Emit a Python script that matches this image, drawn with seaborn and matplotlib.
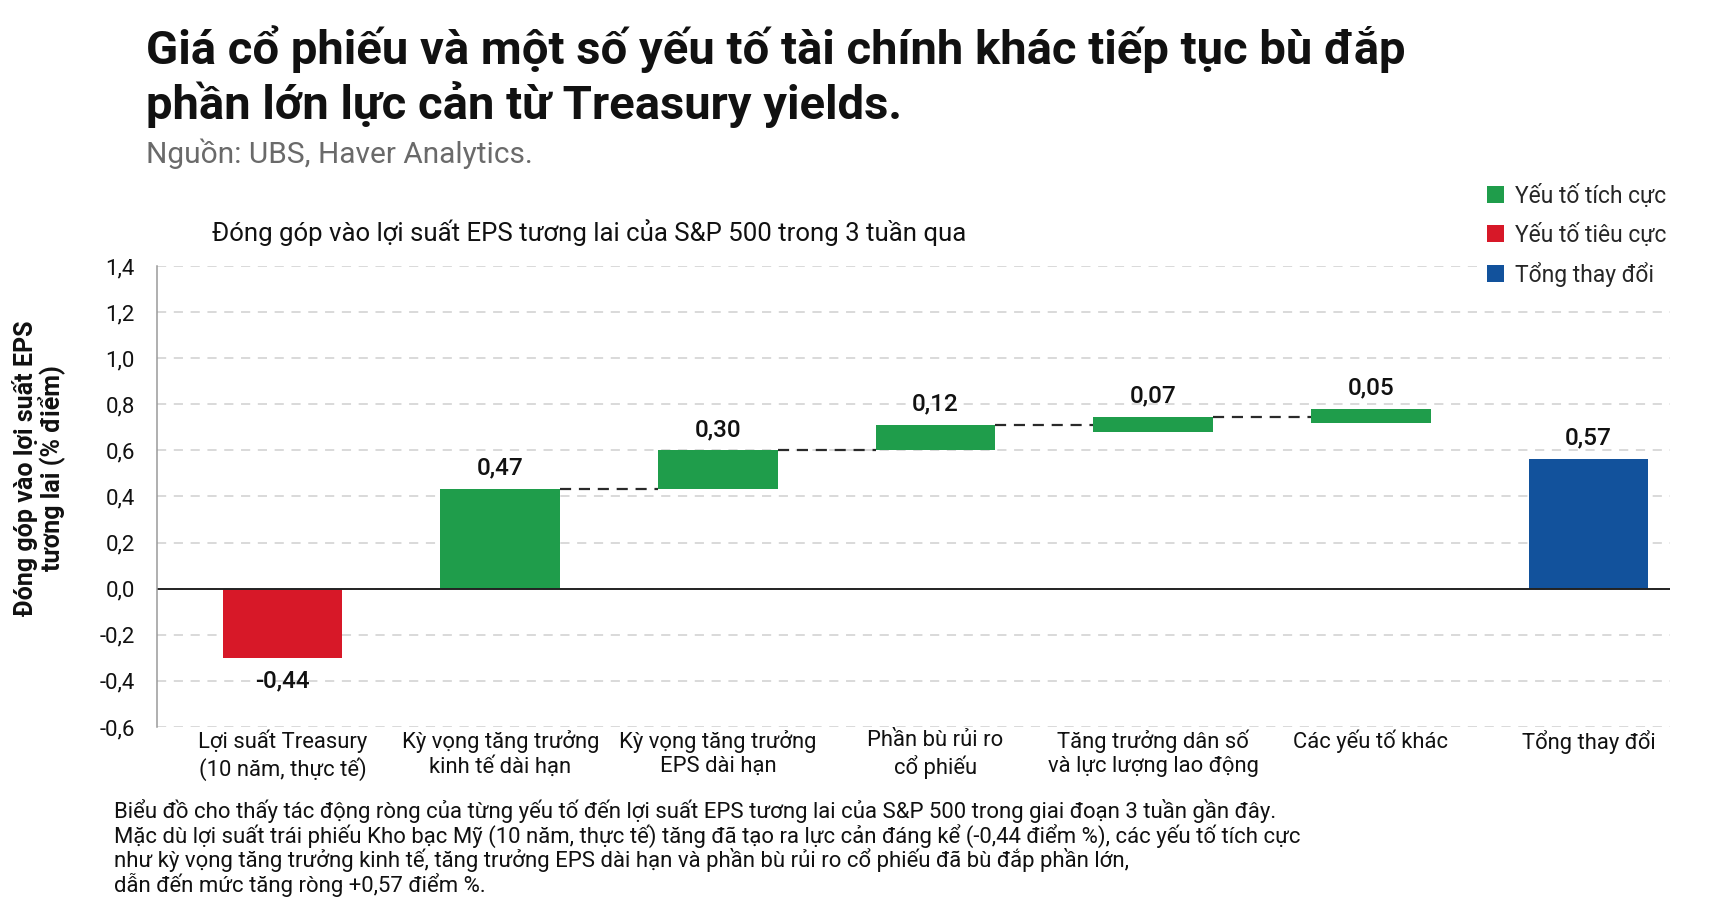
import matplotlib
matplotlib.use("Agg")
import matplotlib.pyplot as plt
from matplotlib.patches import Patch
import seaborn as sns
import pandas as pd

# data
categories = [
    "Lợi suất Treasury\n(10 năm, thực tế)",
    "Kỳ vọng tăng trưởng\nkinh tế dài hạn",
    "Kỳ vọng tăng trưởng\nEPS dài hạn",
    "Phần bù rủi ro\ncổ phiếu",
    "Tăng trưởng dân số\nvà lực lượng lao động",
    "Các yếu tố khác",
    "Tổng thay đổi",
]
label_values = [-0.44, 0.47, 0.30, 0.12, 0.07, 0.05, 0.57]
bar_bottoms = [0.0, 0.0, 0.433, 0.600, 0.681, 0.720, 0.0]
bar_tops = [-0.302, 0.433, 0.600, 0.711, 0.746, 0.781, 0.564]
kinds = ["neg", "pos", "pos", "pos", "pos", "pos", "total"]
connectors = [1, 2, 3, 4]  # dashed line from bar i to bar i+1

y_ticks = [-0.6, -0.4, -0.2, 0.0, 0.2, 0.4, 0.6, 0.8, 1.0, 1.2, 1.4]

legend_labels = {"pos": "Yếu tố tích cực", "neg": "Yếu tố tiêu cực", "total": "Tổng thay đổi"}
colors = {"pos": "#1f9d4b", "neg": "#d71828", "total": "#12529c"}

title = ("Giá cổ phiếu và một số yếu tố tài chính khác tiếp tục bù đắp\n"
         "phần lớn lực cản từ Treasury yields.")
source = "Nguồn: UBS, Haver Analytics."
subtitle = "Đóng góp vào lợi suất EPS tương lai của S&P 500 trong 3 tuần qua"
ylabel = "Đóng góp vào lợi suất EPS\ntương lai (% điểm)"
footnote = [
    "Biểu đồ cho thấy tác động ròng của từng yếu tố đến lợi suất EPS tương lai của S&P 500 trong giai đoạn 3 tuần gần đây.",
    "Mặc dù lợi suất trái phiếu Kho bạc Mỹ (10 năm, thực tế) tăng đã tạo ra lực cản đáng kể (-0,44 điểm %), các yếu tố tích cực",
    "như kỳ vọng tăng trưởng kinh tế, tăng trưởng EPS dài hạn và phần bù rủi ro cổ phiếu đã bù đắp phần lớn,",
    "dẫn đến mức tăng ròng +0,57 điểm %.",
]

sns.set_theme(style="white")
plt.rcParams["font.family"] = ["Roboto", "DejaVu Sans"]

W, H = 1723, 913
fig = plt.figure(figsize=(W / 100, H / 100), dpi=100)
ax = fig.add_axes([157 / W, 1 - 727 / H, (1670 - 157) / W, (727 - 266) / H])

df = pd.DataFrame({"cat": categories, "bottom": bar_bottoms, "top": bar_tops, "kind": kinds})
df["height"] = df["top"] - df["bottom"]
bar_w = 0.55

for kind in ["neg", "pos", "total"]:
    sub = df[df["kind"] == kind]
    sns.barplot(data=sub, x="cat", y="height", order=categories,
                bottom=sub["bottom"].to_numpy(), color=colors[kind],
                saturation=1, width=bar_w, errorbar=None, linewidth=0, ax=ax)

# connectors
for i in connectors:
    ax.plot([i + bar_w / 2, i + 1 - bar_w / 2], [bar_tops[i], bar_tops[i]],
            color="#2a2a2a", lw=1.6, ls=(0, (5, 3.5)), zorder=3)

# value labels
for i, v in enumerate(label_values):
    txt = f"{v:.2f}".replace(".", ",")
    if v >= 0:
        ax.annotate(txt, (i, max(bar_tops[i], bar_bottoms[i])), xytext=(0, 15),
                    textcoords="offset points", ha="center", va="center",
                    fontsize=17.5, fontweight="medium", color="#111111")
    else:
        ax.annotate(txt, (i, min(bar_tops[i], bar_bottoms[i])), xytext=(0, -16.5),
                    textcoords="offset points", ha="center", va="center",
                    fontsize=17.5, fontweight="medium", color="#111111")

ax.set_xlim(-0.577, 6.374)
ax.set_ylim(-0.6, 1.4)
ax.set_yticks(y_ticks)
ax.set_yticklabels([f"{t:.1f}".replace(".", ",") for t in y_ticks])
ax.set_xlabel("")
ax.set_ylabel("")
ax.tick_params(axis="y", length=0, pad=16, labelsize=16, labelcolor="#111111")
ax.tick_params(axis="x", length=0, pad=2, labelsize=15.8, labelcolor="#111111")
ax.yaxis.grid(True, color="#cfcfcf", lw=1.1, ls=(0, (6, 5)))
ax.xaxis.grid(False)
ax.set_axisbelow(True)
ax.axhline(0, color="#222222", lw=1.4, zorder=2)
for s in ["top", "right", "bottom"]:
    ax.spines[s].set_visible(False)
ax.spines["left"].set_color("#9a9a9a")
ax.spines["left"].set_linewidth(1.1)

# texts
fig.text(146 / W, 1 - 77 / H, title, fontsize=34, fontweight="bold", color="#111111",
         va="center", ha="left", linespacing=1.21)
fig.text(146 / W, 1 - 154 / H, source, fontsize=21.5, color="#6a6a6a", va="center")
fig.text(212 / W, 1 - 233 / H, subtitle, fontsize=18.5, color="#111111", va="center")
fig.text(39 / W, 1 - 468 / H, ylabel, rotation=90, fontsize=18, fontweight="bold",
         color="#111111", ha="center", va="center", multialignment="center", linespacing=1.02)
for k, line in enumerate(footnote):
    fig.text(114 / W, 1 - (811 + 24.5 * k) / H, line, fontsize=15.9, color="#111111", va="center")

handles = [Patch(facecolor=colors[k], edgecolor="none") for k in ["pos", "neg", "total"]]
fig.legend(handles, [legend_labels[k] for k in ["pos", "neg", "total"]],
           loc="upper left", bbox_to_anchor=(1466 / W, 1 - 163 / H),
           frameon=True, facecolor="white", edgecolor="none", framealpha=1,
           fontsize=16.5, handlelength=0.77, handleheight=0.77, handletextpad=0.45,
           labelspacing=0.66, borderpad=0.4, fancybox=False)

fig.savefig("out.png", dpi=100, facecolor="white")
